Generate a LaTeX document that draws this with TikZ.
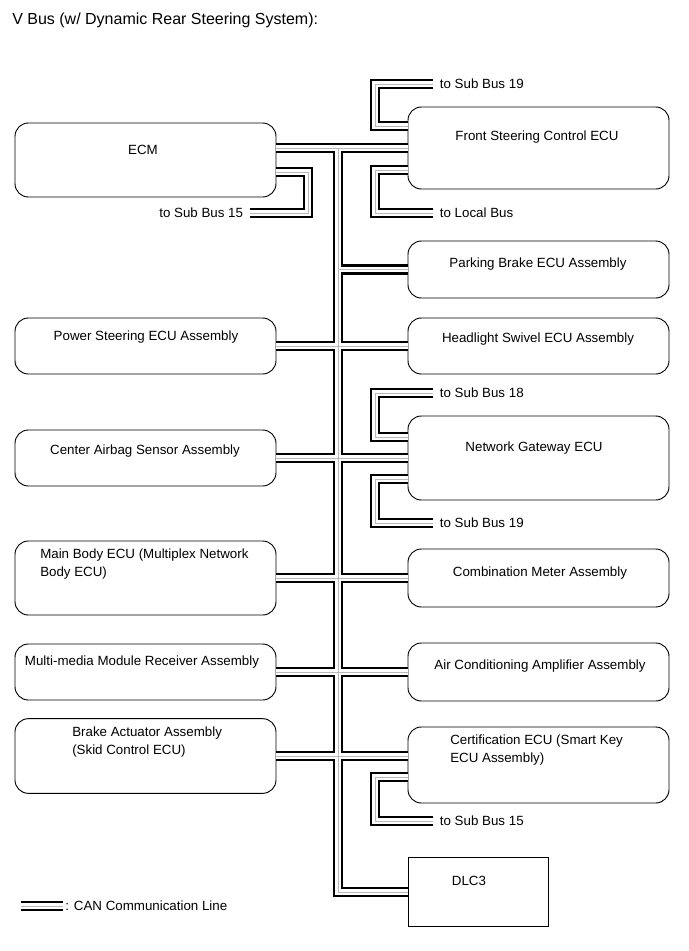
\documentclass[tikz,border=0pt]{standalone}
\usepackage{fontspec}
\setmainfont{Liberation Sans}
\usetikzlibrary{positioning}

% all CAN routes, drawn once per layer so the junctions merge
\newcommand{\canlines}[1]{%
  \draw[#1] (ecm.east |- fsc.west) -- (fsc.west);
  \draw[#1] (bustop) |- (dlc.west);
  \draw[#1] (bustop |- pbk.west) -- (pbk.west);
  \draw[#1] (pst.east) -- (hls.west);
  \draw[#1] (cas.east) -- (ngw.west);
  \draw[#1] (mbe.east) -- (cmb.west);
  \draw[#1] (mmr.east) -- (acm.west);
  \draw[#1] (bak.east) -- (bak.east -| cer.west);
  \draw[#1] (ecm.east |- 0,172) -| (308,213) -- (ecm-sb);
  \draw[#1] (fsc.west |- 0,126) -| (375,84) -- (fsc-sb);
  \draw[#1] (fsc.west |- 0,170) -| (375,213) -- (fsc-lb);
  \draw[#1] (ngw.west |- 0,437) -| (375,393) -- (ngw-sb18);
  \draw[#1] (ngw.west |- 0,479) -| (375,523) -- (ngw-sb19);
  \draw[#1] (cer.west |- 0,777) -| (375,821) -- (cer-sb);
  \draw[#1] (leg-a) -- (leg-b);
}

\begin{document}
\begin{tikzpicture}[x=0.75pt, y=-0.75pt, ecu/.style={draw, line width=0.7pt, rounded corners=10pt, minimum width=195.75pt, inner sep=0pt}, txt/.style={font=\fontsize{10}{13}\selectfont, inner sep=0pt}, canblack/.style={line width=7.6pt}, canwhite/.style={white, line width=3.9pt}, cangray/.style={gray!55, line width=0.45pt}]
\useasboundingbox (0,0) rectangle (689,951);
\node[anchor=west, inner sep=0pt, font=\fontsize{12}{14}\selectfont] (title) at (12,20) {V Bus (w/ Dynamic Rear Steering System):};
% left column
\node[ecu, minimum height=55.5pt] (ecm) at (145.5,160) {};
\node[ecu, minimum height=42pt] (pst) at (145.5,346) {};
\node[ecu, minimum height=42pt] (cas) at (145.5,458) {};
\node[ecu, minimum height=55.5pt] (mbe) at (145.5,578) {};
\node[ecu, minimum height=42pt] (mmr) at (145.5,672) {};
\node[ecu, minimum height=56pt] (bak) at (145.5,756) {};
% right column
\node[ecu, minimum height=61.5pt] (fsc) at (538.5,148) {};
\node[ecu, minimum height=42.75pt] (pbk) at (538.5,269.5) {};
\node[ecu, minimum height=42pt] (hls) at (538.5,346) {};
\node[ecu, minimum height=63pt] (ngw) at (538.5,458) {};
\node[ecu, minimum height=43.5pt] (cmb) at (538.5,578) {};
\node[ecu, minimum height=43.5pt] (acm) at (538.5,672) {};
\node[ecu, minimum height=57pt] (cer) at (538.5,765) {};
\node[draw, line width=0.7pt, minimum width=105pt, minimum height=51.75pt] (dlc) at (478,892) {};
% texts
\node[txt] (ecm-t) at (143,150) {ECM};
\node[txt] (pst-t) at (146,337) {Power Steering ECU Assembly};
\node[txt] (cas-t) at (145,451) {Center Airbag Sensor Assembly};
\node[txt, anchor=west, align=left] (mbe-t) at (40,564) {Main Body ECU (Multiplex Network\\Body ECU)};
\node[txt] (mmr-t) at (142,662) {Multi-media Module Receiver Assembly};
\node[txt, anchor=west, align=left] (bak-t) at (72,742) {Brake Actuator Assembly\\(Skid Control ECU)};
\node[txt] (fsc-t) at (537,137) {Front Steering Control ECU};
\node[txt] (pbk-t) at (538,264) {Parking Brake ECU Assembly};
\node[txt] (hls-t) at (538,339) {Headlight Swivel ECU Assembly};
\node[txt] (ngw-t) at (534,448) {Network Gateway ECU};
\node[txt] (cmb-t) at (540,573) {Combination Meter Assembly};
\node[txt] (acm-t) at (540,666) {Air Conditioning Amplifier Assembly};
\node[txt, anchor=west, align=left] (cer-t) at (450,750) {Certification ECU (Smart Key\\ECU Assembly)};
\node[txt] (dlc-t) at (469,881) {DLC3};
% bus points and free ends
\coordinate (bustop) at (338,0 |- fsc.west);
\coordinate (ecm-sb) at (250,213);
\coordinate (fsc-sb) at (433,84);
\coordinate (fsc-lb) at (433,213);
\coordinate (ngw-sb18) at (433,393);
\coordinate (ngw-sb19) at (433,523);
\coordinate (cer-sb) at (433,821);
\coordinate (leg-a) at (21,906);
\coordinate (leg-b) at (63,906);
\canlines{canblack}
\canlines{canwhite}
\canlines{cangray}
\node[txt, left=5pt of ecm-sb] (ecm-sb-t) {to Sub Bus 15};
\node[txt, right=5pt of fsc-sb] (fsc-sb-t) {to Sub Bus 19};
\node[txt, right=5pt of fsc-lb] (fsc-lb-t) {to Local Bus};
\node[txt, right=5pt of ngw-sb18] (ngw-sb18-t) {to Sub Bus 18};
\node[txt, right=5pt of ngw-sb19] (ngw-sb19-t) {to Sub Bus 19};
\node[txt, right=5pt of cer-sb] (cer-sb-t) {to Sub Bus 15};
\node[txt, right=1.5pt of leg-b] (leg-t) {: CAN Communication Line};
\end{tikzpicture}
\end{document}
